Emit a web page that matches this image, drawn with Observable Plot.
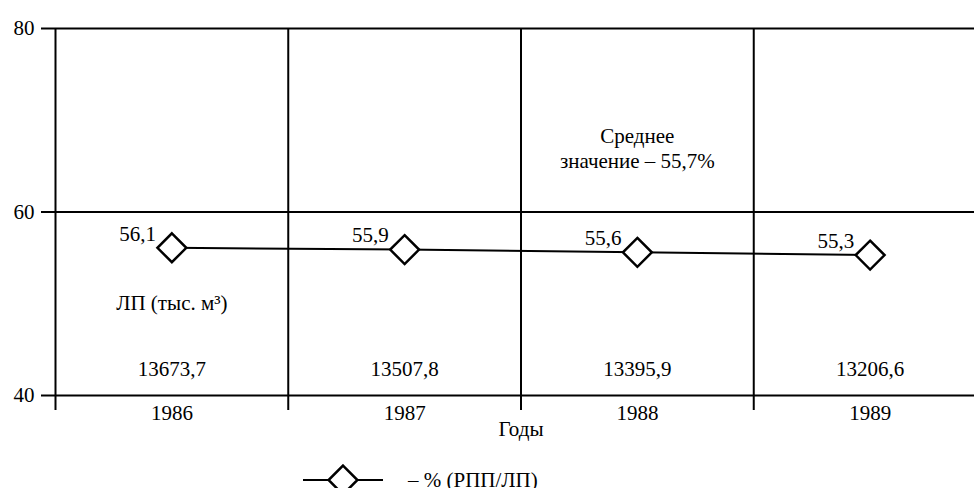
<!DOCTYPE html>
<html>
<head>
<meta charset="utf-8">
<script src="https://cdn.jsdelivr.net/npm/d3@7"></script>
<script src="https://cdn.jsdelivr.net/npm/@observablehq/plot@0.6"></script>
<style>
  body { margin: 0; background: #fff; font-family: "Liberation Serif", "DejaVu Serif", "Noto Serif", "Times New Roman", Times, FreeSerif, serif; overflow: hidden; }
  #legend { display: flex; align-items: center; height: 16px; line-height: 16px; margin-top: 14px; padding-left: 303px; font-size: 21px; color: #000; }
  #legend svg { overflow: visible; }
  #legend span { margin-left: 25px; }
</style>
</head>
<body>
<div id="chart"></div>
<div id="legend"></div>
<script>
const years = ["1986", "1987", "1988", "1989"];
const shares = [56.1, 55.9, 55.6, 55.3];
const shareLabels = ["56,1", "55,9", "55,6", "55,3"];
const volumes = ["13673,7", "13507,8", "13395,9", "13206,6"];
const yTicks = [40, 60, 80];
const volumeTitle = "ЛП (тыс. м³)";
const meanNote = "Среднее\nзначение – 55,7%";
const xTitle = "Годы";
const legendText = "– % (РПП/ЛП)";

const data = years.map((y, i) => ({pos: i + 0.5, year: y, share: shares[i], label: shareLabels[i], volume: volumes[i]}));
const edges = d3.range(years.length + 1);

const FONT = '"Liberation Serif", "DejaVu Serif", "Noto Serif", "Times New Roman", Times, FreeSerif, serif';
const FS = 21;
const chart = Plot.plot({
  width: 974,
  height: 458,
  marginTop: 28,
  marginBottom: 63,
  marginLeft: 55,
  marginRight: 0,
  style: {fontFamily: FONT, fontSize: FS + "px", color: "#000", background: "#fff"},
  x: {type: "linear", domain: [0, years.length], range: [55, 986], axis: null},
  y: {domain: [40, 80], axis: null},
  marks: [
    Plot.ruleY(yTicks, {stroke: "#000", strokeWidth: 2}),
    Plot.axisY({ticks: yTicks, label: null, tickSize: 14, tickPadding: 7, strokeWidth: 2, fontSize: FS, fontFamily: FONT}),
    Plot.ruleX(edges, {stroke: "#000", strokeWidth: 2, insetBottom: -15}),
    Plot.line(data, {x: "pos", y: "share", stroke: "#000", strokeWidth: 2}),
    Plot.dot(data, {x: "pos", y: "share", symbol: "diamond2", r: 13, fill: "#fff", stroke: "#000", strokeWidth: 2.5}),
    Plot.text(data, {x: "pos", y: "share", text: "label", textAnchor: "end", dx: -16, dy: -14, fontSize: FS, fontFamily: FONT}),
    Plot.text(data, {x: "pos", text: "volume", frameAnchor: "bottom", dy: -20, fontSize: FS, fontFamily: FONT}),
    Plot.text(data, {x: "pos", text: "year", frameAnchor: "bottom", dy: 24, fontSize: FS, fontFamily: FONT}),
    Plot.text([xTitle], {x: 2, frameAnchor: "bottom", dy: 40, fontSize: FS, fontFamily: FONT}),
    Plot.text([volumeTitle], {x: 0.5, y: 50, fontSize: FS, fontFamily: FONT}),
    Plot.text([meanNote], {x: 2.5, y: 67, fontSize: FS, fontFamily: FONT, lineHeight: 1.2})
  ]
});
document.getElementById("chart").appendChild(chart);

const legend = document.getElementById("legend");
const ls = d3.create("svg").attr("width", 80).attr("height", 16);
ls.append("line").attr("x1", 0).attr("x2", 80).attr("y1", 8).attr("y2", 8).attr("stroke", "#000").attr("stroke-width", 2);
ls.append("path").attr("transform", "translate(40,8)")
  .attr("d", d3.symbol(d3.symbolDiamond2, Math.PI * 13 * 13)())
  .attr("fill", "#fff").attr("stroke", "#000").attr("stroke-width", 2.5);
legend.appendChild(ls.node());
const sp = document.createElement("span");
sp.textContent = legendText;
legend.appendChild(sp);
</script>
</body>
</html>
